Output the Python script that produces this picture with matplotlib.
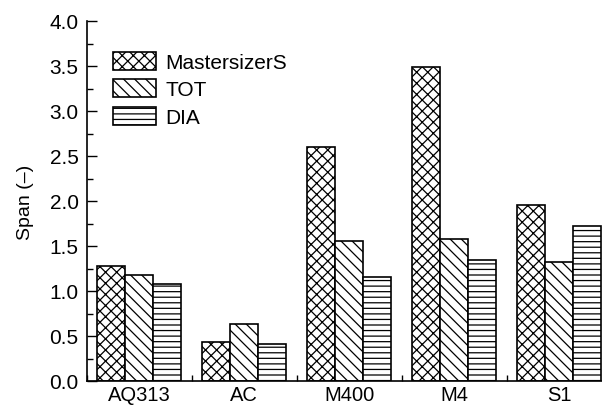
import numpy as np
import matplotlib.pyplot as plt
from matplotlib.ticker import MultipleLocator

plt.rcParams['font.family'] = ['Liberation Sans', 'DejaVu Sans']
plt.rcParams['hatch.linewidth'] = 0.9

# Datos
muestras = ['AQ313', 'AC', 'M400', 'M4', 'S1']
mastersizer = [1.28, 0.43, 2.60, 3.49, 1.96]
tot = [1.18, 0.63, 1.56, 1.58, 1.32]
dia = [1.08, 0.41, 1.16, 1.35, 1.72]

fig = plt.figure(figsize=(6.02, 4.06), dpi=100)
ax = fig.add_axes([87 / 602, 1 - 382 / 406, 524.5 / 602, 360 / 406])

x = np.arange(len(muestras))
w = 0.2667
ax.bar(x - w, mastersizer, w, color='white', edgecolor='black', hatch='xxx', linewidth=1.2, label='MastersizerS')
ax.bar(x, tot, w, color='white', edgecolor='black', hatch='\\\\\\', linewidth=1.2, label='TOT')
ax.bar(x + w, dia, w, color='white', edgecolor='black', hatch='---', linewidth=1.2, label='DIA')

ax.set_xlim(-0.5, 4.5)
ax.set_ylim(0, 4.0)
ax.set_xticks(x)
ax.set_xticklabels(muestras, fontsize=14.5)
ax.xaxis.set_minor_locator(MultipleLocator(1, offset=0.5))
ax.tick_params(axis='x', which='major', length=0, pad=3)
ax.tick_params(axis='x', which='minor', direction='in', length=4, width=1)
ax.set_yticks(np.arange(0, 4.01, 0.5))
ax.yaxis.set_minor_locator(MultipleLocator(0.25))
ax.tick_params(axis='y', which='major', direction='in', length=7, width=1, labelsize=15, pad=6)
ax.tick_params(axis='y', which='minor', direction='in', length=4, width=1)
ax.set_ylabel('Span (–)', fontsize=14, labelpad=11)

for s in ['top', 'right']:
    ax.spines[s].set_visible(False)
for s in ['left', 'bottom']:
    ax.spines[s].set_linewidth(1.2)

ax.legend(loc='upper left', bbox_to_anchor=(0.05, 0.915), frameon=False, fontsize=15,
          handlelength=2.05, handleheight=0.95, handletextpad=0.45, labelspacing=0.36,
          borderaxespad=0, borderpad=0)

plt.savefig('out.png', dpi=100)
